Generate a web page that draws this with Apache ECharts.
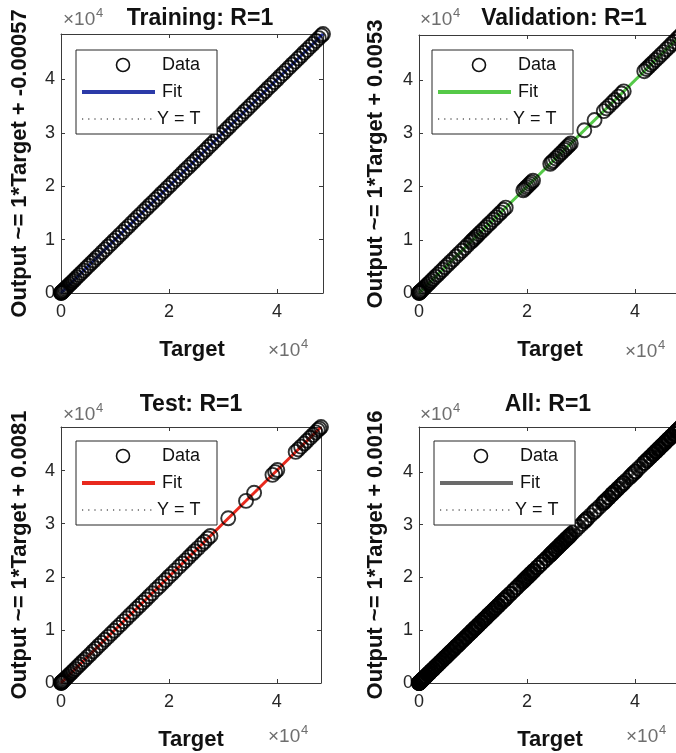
<!DOCTYPE html>
<html><head><meta charset="utf-8">
<script src="https://cdn.jsdelivr.net/npm/echarts@6/dist/echarts.min.js"></script>
<style>html,body{margin:0;padding:0;background:#fff;}#main{width:676px;height:753px;}</style>
</head><body><div id="main"></div>
<script>
// ---------------- data ----------------
const panelTitles = ['Training: R=1', 'Validation: R=1', 'Test: R=1', 'All: R=1'];
const yAxisNames = ['Output ~= 1*Target + -0.00057', 'Output ~= 1*Target + 0.0053', 'Output ~= 1*Target + 0.0081', 'Output ~= 1*Target + 0.0016'];
const xAxisName = 'Target';
const legendNames = ['Data', 'Fit', 'Y = T'];
const fitColors = ['#2B3AA8', '#55C948', '#E8291D', '#6A6A6A'];
const axisMax = [48500, 48500, 48200, 48500];
const xTickLabels = ['0', '2', '4'];          // x 10^4, step 2
const yTickLabels = ['0', '1', '2', '3', '4']; // x 10^4, step 1
const exponentLabel = ['×10', '4'];

const trainTarget = [0, 30, 80, 150, 240, 360, 500, 670, 860, 1080, 1330, 1600, 1900, 2230, 2580, 2950, 3350, 3760, 4200, 4650, 5120, 5600, 6090, 6600, 7110, 7640, 8170, 8700, 9250, 9790, 10340, 10880, 11430, 11990, 12540, 13080, 13640, 14190, 14730, 15290, 15840, 16380, 16930, 17490, 18030, 18580, 19140, 19680, 20230, 20790, 21330, 21880, 22440, 22980, 23530, 24090, 24630, 25180, 25740, 26280, 26830, 27390, 27930, 28480, 29040, 29580, 30130, 30690, 31230, 31780, 32340, 32880, 33430, 33990, 34530, 35080, 35640, 36180, 36730, 37290, 37830, 38380, 38940, 39480, 40030, 40590, 41130, 41680, 42240, 42780, 43330, 43890, 44430, 44980, 45540, 46080, 46630, 47190, 47730, 48200, 48500];
const trainOutput = [10, 40, 70, 160, 230, 370, 490, 680, 850, 1090, 1320, 1610, 1890, 2240, 2570, 2960, 3340, 3770, 4190, 4660, 5110, 5610, 6080, 6610, 7100, 7650, 8160, 8710, 9240, 9800, 10330, 10890, 11420, 12000, 12530, 13090, 13630, 14200, 14720, 15300, 15830, 16390, 16920, 17500, 18020, 18590, 19130, 19690, 20220, 20800, 21320, 21890, 22430, 22990, 23520, 24100, 24620, 25190, 25730, 26290, 26820, 27400, 27920, 28490, 29030, 29590, 30120, 30700, 31220, 31790, 32330, 32890, 33420, 34000, 34520, 35090, 35630, 36190, 36720, 37300, 37820, 38390, 38930, 39490, 40020, 40600, 41120, 41690, 42230, 42790, 43320, 43900, 44420, 44990, 45530, 46090, 46620, 47200, 47720, 48210, 48490];

const valTarget = [0, 20, 60, 120, 200, 310, 450, 620, 820, 1050, 1310, 1600, 1920, 2270, 2650, 3050, 3470, 3910, 4370, 4840, 5330, 5830, 6340, 6860, 7390, 7920, 8460, 9000, 9550, 9800, 10100, 10400, 10650, 11050, 11480, 11920, 12370, 12830, 13290, 13760, 14230, 14700, 15170, 15640, 16050, 19300, 19600, 19900, 20200, 20500, 20800, 21100, 24300, 24600, 24900, 25300, 25700, 26100, 26500, 26900, 27200, 27500, 27800, 28100, 30600, 32500, 34200, 34700, 35200, 35800, 36300, 36900, 37500, 37900, 41700, 42100, 42500, 42900, 43300, 43800, 44300, 44800, 45300, 45800, 46300, 46800, 47300, 47800, 48200, 48500];
const valOutput = [15, 30, 50, 130, 190, 320, 440, 630, 810, 1060, 1300, 1610, 1910, 2280, 2640, 3060, 3460, 3920, 4360, 4850, 5320, 5840, 6330, 6870, 7380, 7930, 8450, 9010, 9540, 9810, 10090, 10410, 10640, 11060, 11470, 11930, 12360, 12840, 13280, 13770, 14220, 14710, 15160, 15650, 16040, 19310, 19590, 19910, 20190, 20510, 20790, 21110, 24290, 24610, 24890, 25310, 25690, 26110, 26490, 26910, 27190, 27510, 27790, 28110, 30590, 32510, 34190, 34710, 35190, 35810, 36290, 36910, 37490, 37910, 41690, 42110, 42490, 42910, 43290, 43810, 44290, 44810, 45290, 45810, 46290, 46810, 47290, 47810, 48190, 48490];

const testTarget = [0, 25, 70, 130, 210, 320, 460, 630, 830, 1060, 1320, 1610, 1930, 2280, 2660, 3070, 3500, 3950, 4420, 4910, 5420, 5940, 6470, 7010, 7560, 8120, 8690, 9260, 9840, 10420, 11010, 11600, 12190, 12780, 13370, 13960, 14550, 15140, 15730, 16320, 16900, 17600, 18200, 18800, 19400, 20000, 20600, 21200, 21900, 22500, 23100, 23700, 24300, 24800, 25400, 26100, 26600, 27200, 27700, 31000, 34300, 35800, 39200, 39700, 40100, 43500, 44000, 44500, 45100, 45600, 46200, 46700, 47200, 47600, 47900, 48200];
const testOutput = [20, 35, 60, 140, 200, 330, 450, 640, 820, 1070, 1310, 1620, 1920, 2290, 2650, 3080, 3490, 3960, 4410, 4920, 5410, 5950, 6460, 7020, 7550, 8130, 8680, 9270, 9830, 10430, 11000, 11610, 12180, 12790, 13360, 13970, 14540, 15150, 15720, 16330, 16890, 17610, 18190, 18810, 19390, 20010, 20590, 21210, 21890, 22510, 23090, 23710, 24290, 24810, 25390, 26110, 26590, 27210, 27690, 31010, 34290, 35810, 39190, 39710, 40090, 43510, 43990, 44510, 45090, 45610, 46190, 46710, 47190, 47610, 47890, 48190];

// fit line and Y = T line end points (target, output)
const trainFit = [[0, 0], [48500, 48500]];
const valFit = [[0, 5], [48500, 48505]];
const testFit = [[0, 8], [48200, 48208]];
const allFit = [[0, 2], [48500, 48502]];
const trainIdeal = [[0, 0], [48500, 48500]];
const valIdeal = [[0, 0], [48500, 48500]];
const testIdeal = [[0, 0], [48200, 48200]];
const allIdeal = [[0, 0], [48500, 48500]];

// "All" is the union of the three sets
const allTarget = trainTarget.concat(valTarget, testTarget);
const allOutput = trainOutput.concat(valOutput, testOutput);

// ---------------- chart ----------------
const FONT = '"Liberation Sans", Arial, Helvetica, sans-serif';
const AX = '#3a3a3a';
const panels = [
  { t: trainTarget, o: trainOutput, fit: trainFit, ideal: trainIdeal },
  { t: valTarget, o: valOutput, fit: valFit, ideal: valIdeal },
  { t: testTarget, o: testOutput, fit: testFit, ideal: testIdeal },
  { t: allTarget, o: allOutput, fit: allFit, ideal: allIdeal }
];
const gridBoxes = [
  { left: 61, top: 34, width: 262, height: 259 },
  { left: 419, top: 35, width: 262, height: 258 },
  { left: 61, top: 427, width: 260, height: 256 },
  { left: 419, top: 427, width: 262, height: 256 }
];
const titlePos = [[200, 7], [564, 7], [191, 393], [548, 393]];
const legendPos = [[76, 50], [432, 50], [76, 441], [434, 441]];
const expYPos = [[63, 20], [420, 20], [63, 415], [420, 415]];
const expXPos = [[268, 351], [625, 352], [268, 737], [626, 737]];
const yNameGap = [30, 32, 30, 32];

const grid = [], xAxis = [], yAxis = [], series = [], title = [], graphic = [];
gridBoxes.forEach((g, i) => {
  grid.push(Object.assign({ containLabel: false, outerBoundsMode: 'none', show: false }, g));
  const common = {
    type: 'value', gridIndex: i, min: 0, max: axisMax[i], splitLine: { show: false },
    axisLine: { show: true, onZero: false, lineStyle: { color: AX, width: 1 } },
    axisTick: { show: true, inside: true, length: 4, lineStyle: { color: AX, width: 1 } }
  };
  xAxis.push(Object.assign({}, common, {
    position: 'bottom', interval: 20000,
    axisLabel: { show: true, color: '#262626', fontFamily: FONT, fontSize: 18, margin: 10,
      formatter: v => (v % 20000 === 0 && xTickLabels[v / 20000] !== undefined) ? xTickLabels[v / 20000] : '' },
    name: xAxisName, nameLocation: 'middle', nameGap: 46,
    nameTextStyle: { fontFamily: FONT, fontSize: 22, fontWeight: 'bold', color: '#111' }
  }));
  xAxis.push(Object.assign({}, common, { position: 'top', interval: 20000, axisLabel: { show: false } }));
  yAxis.push(Object.assign({}, common, {
    position: 'left', interval: 10000,
    axisLabel: { show: true, color: '#262626', fontFamily: FONT, fontSize: 18, margin: 6,
      formatter: v => (v % 10000 === 0 && yTickLabels[v / 10000] !== undefined) ? yTickLabels[v / 10000] : '' },
    name: yAxisNames[i], nameLocation: 'middle', nameGap: yNameGap[i], nameRotate: 90,
    nameTextStyle: { fontFamily: FONT, fontSize: 22, fontWeight: 'bold', color: '#111' }
  }));
  yAxis.push(Object.assign({}, common, { position: 'right', interval: 10000, axisLabel: { show: false } }));

  const p = panels[i];
  series.push({ type: 'line', name: legendNames[2], xAxisIndex: 2 * i, yAxisIndex: 2 * i, data: p.ideal,
    symbol: 'none', silent: true, z: 2, lineStyle: { color: '#000', width: 1, type: [1, 4] } });
  series.push({ type: 'line', name: legendNames[1], xAxisIndex: 2 * i, yAxisIndex: 2 * i, data: p.fit,
    symbol: 'none', silent: true, z: 3, lineStyle: { color: fitColors[i], width: 3 } });
  series.push({ type: 'scatter', name: legendNames[0], xAxisIndex: 2 * i, yAxisIndex: 2 * i,
    data: p.t.map((t, k) => [t, p.o[k]]), symbol: 'circle', symbolSize: 14, clip: false, silent: true, z: 4,
    itemStyle: { color: 'rgba(0,0,0,0)', borderColor: '#000', borderWidth: 1.9 } });

  title.push({ text: panelTitles[i], left: titlePos[i][0], top: titlePos[i][1], textAlign: 'center', padding: 0,
    textStyle: { fontFamily: FONT, fontSize: 23, fontWeight: 'bold', color: '#111' } });

  // legend box
  const [bx, by] = legendPos[i];
  graphic.push({ type: 'rect', z: 100, shape: { x: bx, y: by, width: 141, height: 84 },
    style: { fill: '#fff', stroke: '#262626', lineWidth: 1 } });
  graphic.push({ type: 'circle', z: 101, shape: { cx: bx + 47, cy: by + 15, r: 6.5 },
    style: { fill: 'none', stroke: '#111', lineWidth: 1.6 } });
  graphic.push({ type: 'line', z: 101, shape: { x1: bx + 6, y1: by + 42, x2: bx + 79, y2: by + 42 },
    style: { stroke: fitColors[i], lineWidth: 4 } });
  graphic.push({ type: 'line', z: 101, shape: { x1: bx + 6, y1: by + 69, x2: bx + 79, y2: by + 69 },
    style: { stroke: '#111', lineWidth: 1, lineDash: [1.2, 5] } });
  const txt = (x, y, s) => ({ type: 'text', z: 101, x: x, y: y,
    style: { text: s, fill: '#111', font: '18px ' + FONT, textAlign: 'left', textVerticalAlign: 'middle' } });
  graphic.push(txt(bx + 86, by + 15, legendNames[0]));
  graphic.push(txt(bx + 86, by + 42, legendNames[1]));
  graphic.push(txt(bx + 81, by + 69, legendNames[2]));

  // x10^4 exponent labels
  const expo = (x, y) => [
    { type: 'text', z: 101, x: x, y: y, style: { text: exponentLabel[0], fill: '#6e6e6e', font: '19px ' + FONT, textAlign: 'left', textVerticalAlign: 'middle' } },
    { type: 'text', z: 101, x: x + 33, y: y - 7, style: { text: exponentLabel[1], fill: '#6e6e6e', font: '13px ' + FONT, textAlign: 'left', textVerticalAlign: 'middle' } }
  ];
  graphic.push(...expo(expYPos[i][0], expYPos[i][1]));
  graphic.push(...expo(expXPos[i][0], expXPos[i][1]));
});

const chart = echarts.init(document.getElementById('main'), null, { renderer: 'canvas' });
chart.setOption({
  animation: false, backgroundColor: '#fff',
  title, grid, xAxis, yAxis, series, graphic
});
</script></body></html>
